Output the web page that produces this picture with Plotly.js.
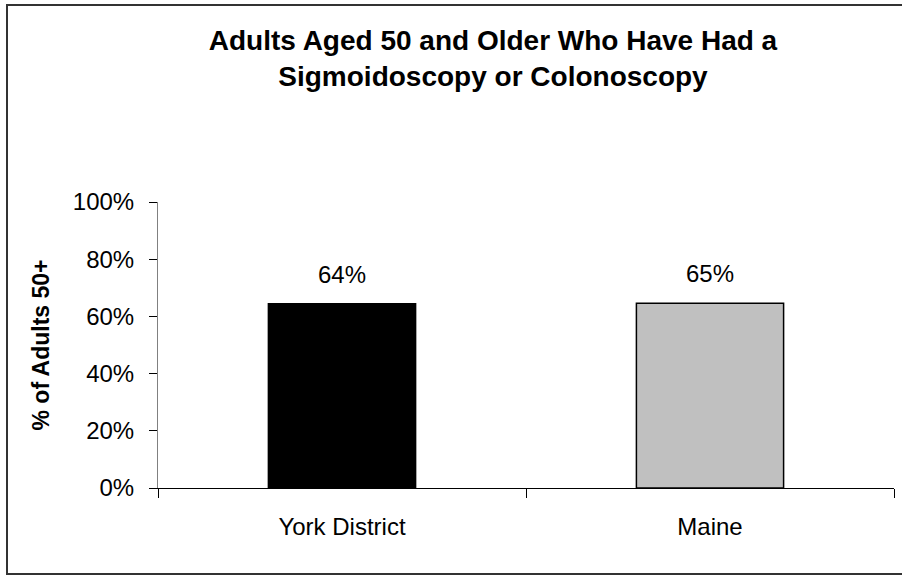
<!DOCTYPE html>
<html>
<head>
<meta charset="utf-8">
<script src="https://cdn.plot.ly/plotly-3.0.1.min.js"></script>
<style>
  html, body { margin: 0; padding: 0; background: #fff; }
  #chart { width: 902px; height: 575px; }
</style>
</head>
<body>
<div id="chart"></div>
<script>
// ---- data ----
const categories = ["York District", "Maine"];
const values = [0.644, 0.646];          // share of adults 50+
const barColors = ["#000000", "#C0C0C0"];
const yTickVals = [0, 0.2, 0.4, 0.6, 0.8, 1.0];

const FONT = '"Liberation Sans", Arial, sans-serif';

const trace = {
  type: 'bar',
  x: categories,
  y: values,
  width: 0.4,
  marker: { color: barColors, line: { color: '#000000', width: 1.5 } },
  hoverinfo: 'skip'
};

const labels = categories.map((c, i) => ({
  x: c, y: values[i], xref: 'x', yref: 'y',
  text: Math.round(values[i] * 100) + '%',
  showarrow: false, yanchor: 'bottom', yshift: 14,
  font: { family: FONT, size: 24, color: '#000' }
}));

// plot area pixel geometry
const L = 158, R = 8, T = 202, B = 87, W = 902, H = 575;
const pw = W - L - R, ph = H - T - B;
const px2x = p => (p - L) / pw;
const px2y = p => (H - B - p) / ph;

const layout = {
  width: W, height: H,
  margin: { l: L, r: R, t: T, b: B, pad: 0 },
  paper_bgcolor: '#ffffff',
  plot_bgcolor: '#ffffff',
  showlegend: false,
  font: { family: FONT, color: '#000' },
  title: {
    text: '<b>Adults Aged 50 and Older Who Have Had a<br>Sigmoidoscopy or Colonoscopy</b>',
    font: { family: FONT, size: 28, color: '#000' },
    x: 493 / W, xanchor: 'center', xref: 'container',
    y: 1 - 50 / H, yanchor: 'top', yref: 'container'
  },
  xaxis: {
    type: 'category',
    showline: true, linecolor: '#000', linewidth: 1,
    ticks: 'outside', tickson: 'boundaries', ticklen: 9, tickcolor: '#000', tickwidth: 1,
    tickfont: { family: FONT, size: 24, color: '#000' },
    ticklabelstandoff: 17,
    showgrid: false, zeroline: false, fixedrange: true
  },
  yaxis: {
    range: [0, 1],
    tickvals: yTickVals,
    tickformat: '.0%',
    showline: true, linecolor: '#808080', linewidth: 1,
    ticks: 'outside', ticklen: 8, tickcolor: '#000', tickwidth: 1,
    tickfont: { family: FONT, size: 24, color: '#000' },
    ticklabelstandoff: 10,
    showgrid: false, zeroline: false, fixedrange: true,
    title: {
      text: '<b>% of Adults 50+</b>',
      font: { family: FONT, size: 23, color: '#000' },
      standoff: 16
    },
    automargin: false
  },
  annotations: labels,
  shapes: [{
    type: 'rect', xref: 'paper', yref: 'paper',
    x0: px2x(7), x1: px2x(906), y0: px2y(574), y1: px2y(5),
    line: { color: '#333333', width: 2 }, fillcolor: 'rgba(0,0,0,0)', layer: 'above'
  }]
};

Plotly.newPlot('chart', [trace], layout, { displayModeBar: false, staticPlot: true });
</script>
</body>
</html>
